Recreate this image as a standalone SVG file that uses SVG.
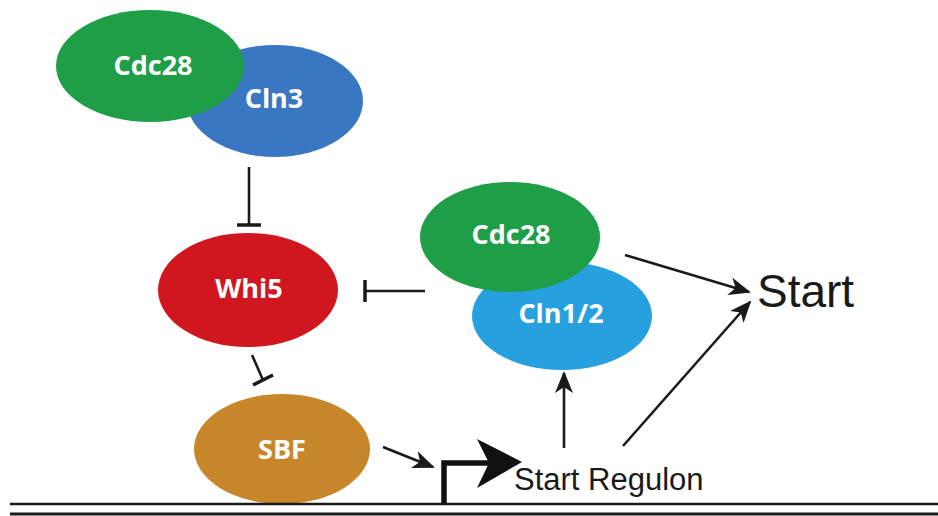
<svg xmlns="http://www.w3.org/2000/svg" width="938" height="516" viewBox="0 0 938 516">
<style>
.lbl{font-family:"Open Sans","Liberation Sans",sans-serif;font-weight:bold;font-size:27px;fill:#ffffff;text-anchor:middle}
.txt{font-family:"Liberation Sans",Arial,sans-serif;fill:#1a1a1a}
.ln{stroke:#1a1a1a;stroke-width:2.6;fill:none}
.bar{stroke:#1a1a1a;stroke-width:3.5;fill:none}
</style>
<defs>
<marker id="ah" markerUnits="userSpaceOnUse" viewBox="0 0 22 18" markerWidth="22" markerHeight="18" refX="20" refY="9" orient="auto">
<path d="M0,0 L22,9 L0,18 L6,9 z" fill="#1a1a1a"/>
</marker>
</defs>
<rect width="938" height="516" fill="#ffffff"/>
<g id="cln3"><ellipse cx="275" cy="101" rx="88" ry="56" fill="#3a77c2"/><text class="lbl" x="274" y="108">Cln3</text></g>
<g id="cdc28a"><ellipse cx="150" cy="66" rx="94" ry="56" fill="#1f9e48"/><text class="lbl" x="153" y="75">Cdc28</text></g>
<g id="whi5"><ellipse cx="248" cy="290" rx="90" ry="57" fill="#d0161f"/><text class="lbl" x="249" y="298">Whi5</text></g>
<g id="cln12"><ellipse cx="562" cy="316" rx="90" ry="54" fill="#27a0df"/><text class="lbl" x="561" y="323">Cln1/2</text></g>
<g id="cdc28b"><ellipse cx="510" cy="237" rx="90" ry="55" fill="#1f9e48"/><text class="lbl" x="511" y="244">Cdc28</text></g>
<g id="sbf"><ellipse cx="282" cy="449" rx="88" ry="55" fill="#c8862b"/><text class="lbl" x="282" y="459">SBF</text></g>
<g id="start"><text class="txt" x="757" y="307" font-size="46">Start</text></g>
<g id="regulon"><text class="txt" x="514" y="490" font-size="31">Start Regulon</text></g>
<g id="dna">
<line x1="10" y1="504" x2="938" y2="504" stroke="#1a1a1a" stroke-width="2.6"/>
<line x1="10" y1="514" x2="938" y2="514" stroke="#1a1a1a" stroke-width="3"/>
<path d="M444,505 V463 H490" stroke="#111" stroke-width="5.5" fill="none"/>
<polygon points="477,439 522,462 477,488 489,463" fill="#111"/>
</g>
<g id="connectors">
<line class="ln" x1="249" y1="167" x2="249" y2="225"/>
<line class="bar" x1="237" y1="225" x2="261" y2="225"/>
<line class="ln" x1="425" y1="291" x2="365" y2="291"/>
<line class="bar" x1="365" y1="280" x2="365" y2="302"/>
<line class="ln" x1="252" y1="355" x2="263" y2="380"/>
<line class="bar" x1="253" y1="385" x2="273" y2="375"/>
<line class="ln" x1="383" y1="447" x2="433" y2="467" marker-end="url(#ah)"/>
<line class="ln" x1="564" y1="448" x2="564" y2="373" marker-end="url(#ah)"/>
<line class="ln" x1="625" y1="255" x2="749" y2="292" marker-end="url(#ah)"/>
<line class="ln" x1="623" y1="446" x2="750" y2="302" marker-end="url(#ah)"/>
</g>
</svg>
